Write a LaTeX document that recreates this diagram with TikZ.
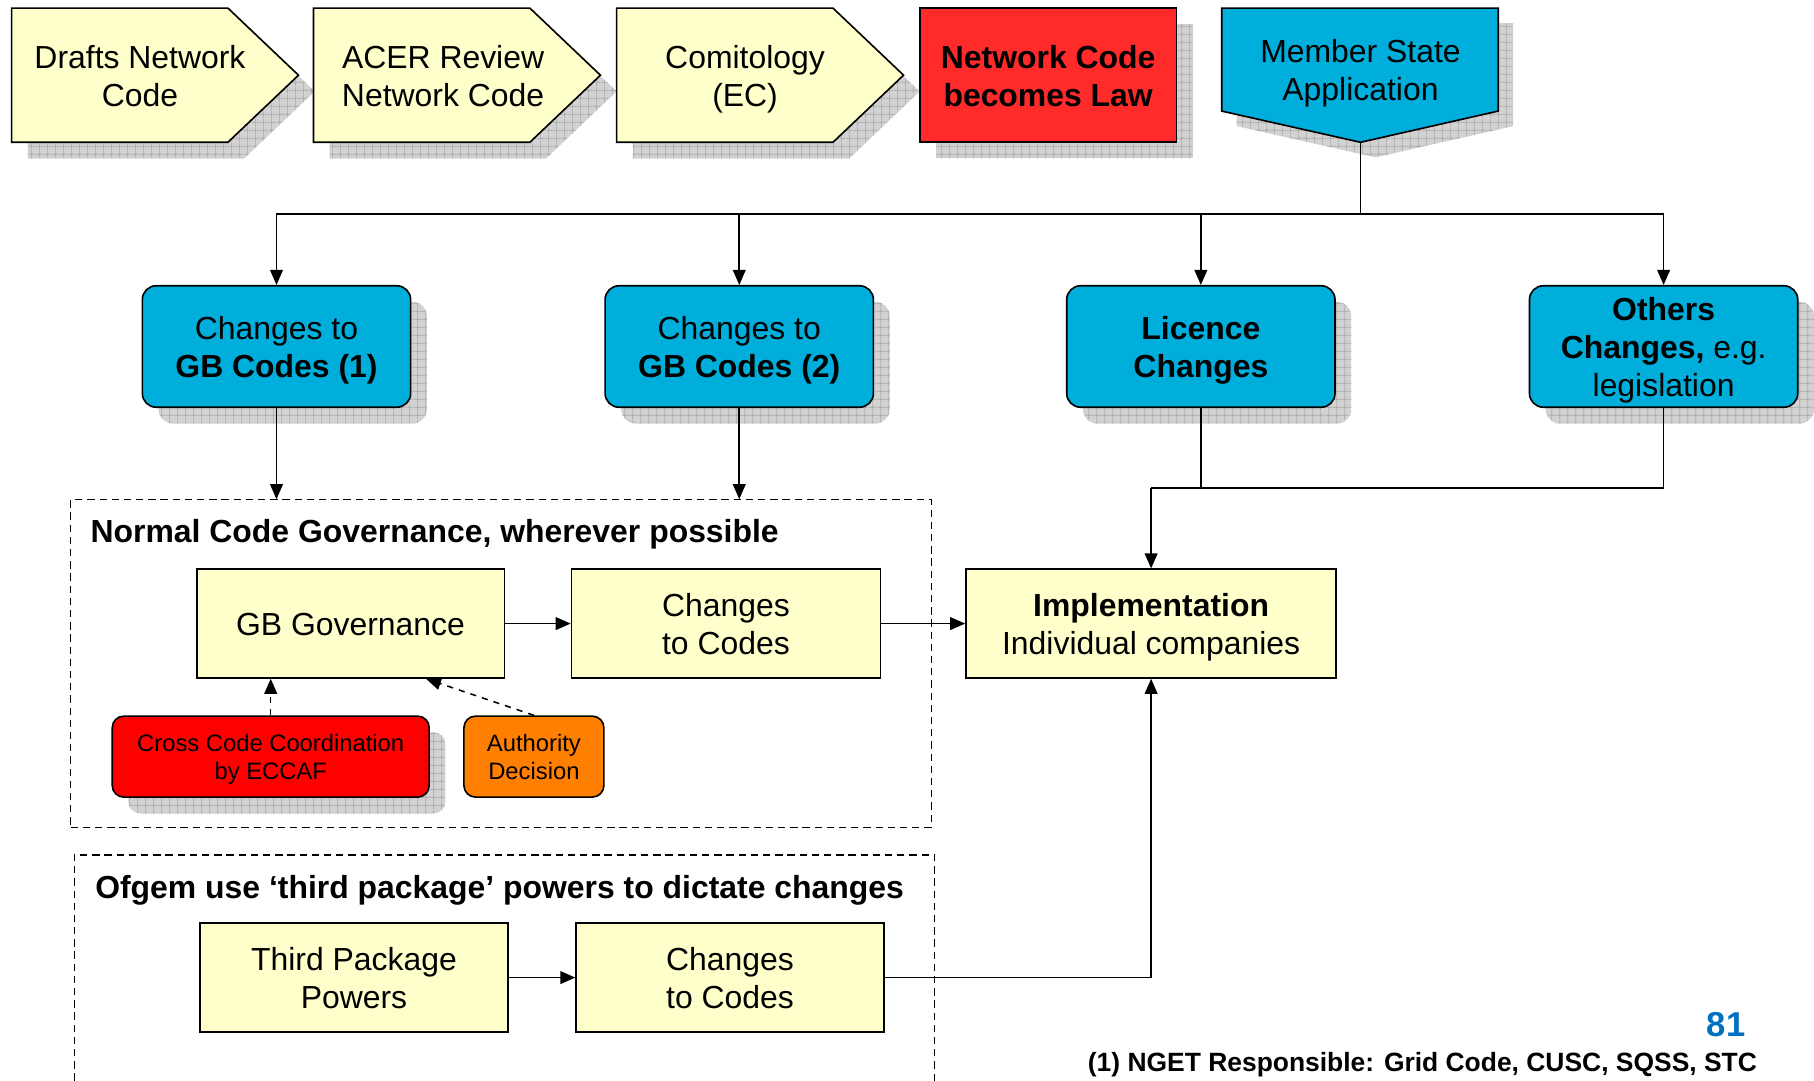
\documentclass[tikz,border=0pt]{standalone}
\usepackage{fontspec}
\setmainfont{Liberation Sans}
\usetikzlibrary{arrows.meta,patterns.meta,shadows,calc}
\definecolor{ylw}{RGB}{255,255,204}
\definecolor{blu}{RGB}{0,174,219}
\definecolor{redA}{RGB}{255,42,42}
\definecolor{redB}{RGB}{255,0,0}
\definecolor{orng}{RGB}{255,128,0}
\definecolor{numblue}{RGB}{0,112,192}
\newcommand\mainfnt{\fontsize{15.7}{18.7}\selectfont}
\newcommand\smallfnt{\fontsize{11.7}{14}\selectfont}
\newcommand\sth{\rule{0pt}{15.5pt}}
\newcommand\std{\rule[-3.8pt]{0pt}{3.8pt}}
\newcommand\ssth{\rule{0pt}{11.5pt}}
\newcommand\sstd{\rule[-2.7pt]{0pt}{2.7pt}}
\tikzset{
  shdwpath/.style={preaction={fill=gray!35}, pattern={Hatch[angle=0,distance=4pt,line width=0.35pt]}, pattern color=gray!70},
  shdw/.style={general shadow={fill=gray!35, shadow xshift=0.28cm, shadow yshift=-0.28cm},
               general shadow={pattern={Hatch[angle=0,distance=4pt,line width=0.35pt]}, pattern color=gray!70, shadow xshift=0.28cm, shadow yshift=-0.28cm}},
  bord/.style={draw=black, line width=0.8pt},
  txt/.style={align=center, font=\mainfnt, inner sep=0pt},
  ybox/.style={bord, fill=ylw, align=center, font=\mainfnt, inner sep=0pt, minimum height=1.88cm},
  bbox/.style={bord, fill=blu, rounded corners=0.24cm, align=center, font=\mainfnt, inner sep=0pt, minimum width=4.64cm, minimum height=2.1cm, shdw},
  dbox/.style={draw=black, line width=0.6pt, dash pattern=on 3.6pt off 2.4pt, inner sep=0pt},
  arr/.style={draw=black, line width=0.75pt, -{Triangle[length=0.26cm,width=0.22cm]}},
  lin/.style={draw=black, line width=0.75pt},
}
\begin{document}
\begin{tikzpicture}[x=0.02cm,y=-0.02cm]
\useasboundingbox (0,0) rectangle (1568,934);
\clip (0,0) rectangle (1568,934);

% ---- top row ----
\path[shdwpath, shift={(14,14)}] (10,7) -- (197,7) -- (258,65) -- (197,123) -- (10,123) -- cycle;
\draw[bord, fill=ylw] (10,7) -- (197,7) -- (258,65) -- (197,123) -- (10,123) -- cycle;
\node[txt] (drafts) at (121,65) {\sth Drafts Network\\Code\std};

\path[shdwpath, shift={(14,14)}] (271,7) -- (458,7) -- (519,65) -- (458,123) -- (271,123) -- cycle;
\draw[bord, fill=ylw] (271,7) -- (458,7) -- (519,65) -- (458,123) -- (271,123) -- cycle;
\node[txt] (acer) at (383,65) {\sth ACER Review\\Network Code\std};

\path[shdwpath, shift={(14,14)}] (533,7) -- (720,7) -- (781,65) -- (720,123) -- (533,123) -- cycle;
\draw[bord, fill=ylw] (533,7) -- (720,7) -- (781,65) -- (720,123) -- (533,123) -- cycle;
\node[txt] (comit) at (644,65) {\sth Comitology\\(EC)\std};

\node[bord, fill=redA, shdw, align=center, font=\mainfnt\bfseries, inner sep=0pt, minimum width=4.44cm, minimum height=2.32cm] (law) at (906,65) {\sth Network Code\\becomes Law\std};

\path[shdwpath, shift={(13,13)}] (1056,7) -- (1295,7) -- (1295,96) -- (1176,123) -- (1056,96) -- cycle;
\draw[bord, fill=blu] (1056,7) -- (1295,7) -- (1295,96) -- (1176,123) -- (1056,96) -- cycle;
\node[txt] (msa) at (1176,60) {\sth Member State\\Application\std};
\coordinate (mstip) at (1176,123);
\coordinate (bus) at (1176,185);

% ---- blue boxes ----
\node[bbox] (gb1) at (239,299.5) {\sth Changes to\\\textbf{GB Codes (1)}\std};
\node[bbox] (gb2) at (639,299.5) {\sth Changes to\\\textbf{GB Codes (2)}\std};
\node[bbox] (lic) at (1038,299.5) {\sth\textbf{Licence}\\\textbf{Changes}\std};
\node[bbox] (oth) at (1438,299.5) {\sth\textbf{Others}\\\textbf{Changes,} e.g.\\legislation\std};

\draw[lin] (mstip) -- (bus);
\draw[arr] (bus) -| (gb1.north);
\draw[arr] (bus) -| (gb2.north);
\draw[arr] (bus) -| (lic.north);
\draw[arr] (bus) -| (oth.north);

% ---- dashed groups ----
\node[dbox, minimum width=14.88cm, minimum height=5.66cm] (grp1) at (433,573.5) {};
\node[dbox, minimum width=14.88cm, minimum height=4.42cm] (grp2) at (436,849.5) {};
\node[anchor=west, font=\mainfnt\bfseries, inner sep=0pt] (t1) at (78,459) {\sth Normal Code Governance, wherever possible\std};
\node[anchor=west, font=\mainfnt\bfseries, inner sep=0pt] (t2) at (82,766) {\sth Ofgem use ‘third package’ powers to dictate changes\std};

\draw[arr] (gb1.south) -- (gb1.south |- grp1.north);
\draw[arr] (gb2.south) -- (gb2.south |- grp1.north);

% ---- inner boxes ----
\node[ybox, minimum width=5.32cm] (gbg) at (303,539) {\sth GB Governance\std};
\node[ybox, minimum width=5.34cm] (chg) at (627.5,539) {\sth Changes\\to Codes\std};
\node[ybox, minimum width=6.4cm] (impl) at (995,539) {\sth\textbf{Implementation}\\Individual companies\std};
\node[bord, fill=redB, shdw, rounded corners=0.2cm, align=center, font=\smallfnt, inner sep=0pt, minimum width=5.48cm, minimum height=1.4cm] (cross) at (234,654) {\ssth Cross Code Coordination\\by ECCAF\sstd};
\node[bord, fill=orng, rounded corners=0.2cm, align=center, font=\smallfnt, inner sep=0pt, minimum width=2.42cm, minimum height=1.4cm] (auth) at (461.5,654) {\ssth Authority\\Decision\sstd};
\node[ybox, minimum width=5.32cm] (tpp) at (306,845) {\sth Third Package\\Powers\std};
\node[ybox, minimum width=5.32cm] (chg2) at (631,845) {\sth Changes\\to Codes\std};

\coordinate (j) at (995,422);
\draw[lin] (lic.south) -- (lic.south |- j);
\draw[lin] (oth.south) |- (j);
\draw[arr] (j) -- (impl.north);

\draw[arr] (gbg.east) -- (chg.west);
\draw[arr] (chg.east) -- (impl.west);
\draw[arr, dashed] (cross.north) -- (cross.north |- gbg.south);
\draw[arr, dashed] (auth.north) -- ($(gbg.south west)!0.744!(gbg.south east)$);
\draw[arr] (tpp.east) -- (chg2.west);
\draw[arr] (chg2.east) -| (impl.south);

% ---- footer ----
\node[anchor=east, font=\fontsize{17}{20}\selectfont\bfseries, text=numblue, inner sep=0pt] (pg) at (1509,885) {\rule{0pt}{16.8pt}81\rule[-4.1pt]{0pt}{4.1pt}};
\node[anchor=east, font=\fontsize{13}{15}\selectfont\bfseries, inner sep=0pt] (note) at (1519,918) {\rule{0pt}{12.8pt}(1) NGET Responsible: Grid Code, CUSC, SQSS, STC\rule[-3.2pt]{0pt}{3.2pt}};
\end{tikzpicture}
\end{document}
